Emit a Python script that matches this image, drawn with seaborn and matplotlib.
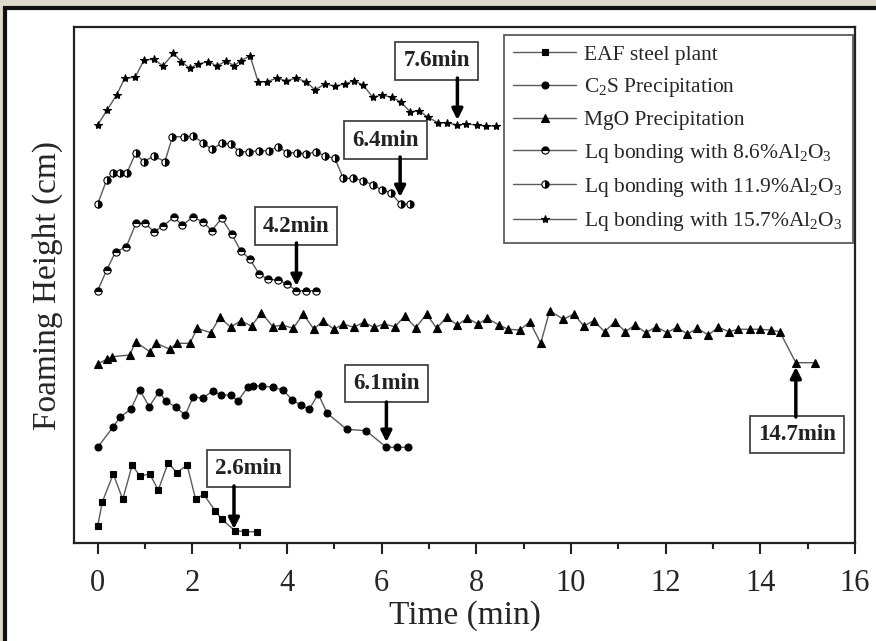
import numpy as np
import pandas as pd
import matplotlib
matplotlib.use('Agg')
import matplotlib.pyplot as plt
from matplotlib.patches import Rectangle
import seaborn as sns

# time (min) and foaming height (arbitrary offset, cm)
eaf_t = [0, 0.10, 0.33, 0.53, 0.73, 0.89, 1.10, 1.28, 1.49, 1.67, 1.89, 2.07, 2.24, 2.48, 2.62, 2.90, 3.11, 3.36]
eaf_h = [1.7, 4.13, 6.9, 4.37, 7.8, 6.7, 6.9, 5.3, 8.03, 7.03, 7.8, 4.37, 4.87, 3.23, 2.37, 1.23, 1.13, 1.13]

c2s_t = [0, 0.33, 0.48, 0.70, 0.89, 1.09, 1.29, 1.44, 1.65, 1.85, 2.02, 2.22, 2.43, 2.60, 2.81, 2.96,
         3.18, 3.29, 3.48, 3.70, 3.92, 4.11, 4.29, 4.47, 4.66, 4.85, 5.26, 5.67, 6.10, 6.33, 6.56]
c2s_h = [9.57, 11.63, 12.63, 13.37, 15.3, 13.63, 15.1, 14.23, 13.57, 12.8, 14.63, 14.47, 15.23, 14.8, 14.8, 14.2,
         15.63, 15.7, 15.7, 15.57, 15.3, 14.3, 13.8, 13.37, 14.9, 12.97, 11.37, 11.23, 9.57, 9.57, 9.57]

mgo_t = [0, 0.19, 0.31, 0.68, 0.80, 1.10, 1.24, 1.53, 1.67, 1.95, 2.10, 2.39, 2.58, 2.81, 3.02, 3.25,
         3.46, 3.70, 3.90, 4.13, 4.34, 4.57, 4.76, 4.99, 5.19, 5.41, 5.62, 5.84, 6.05, 6.28, 6.49, 6.72,
         6.95, 7.16, 7.37, 7.60, 7.81, 8.04, 8.23, 8.48, 8.67, 8.92, 9.13, 9.36, 9.55, 9.84, 10.06, 10.27,
         10.48, 10.71, 10.93, 11.15, 11.35, 11.58, 11.80, 12.03, 12.23, 12.46, 12.67, 12.90, 13.11, 13.34,
         13.53, 13.79, 13.99, 14.22, 14.41, 14.75, 15.15]
mgo_h = [17.9, 18.37, 18.63, 18.8, 20.13, 19.13, 19.97, 19.37, 19.97, 19.97, 21.47, 21.03, 22.57, 21.57,
         22.23, 21.7, 23.03, 21.63, 21.8, 21.47, 22.9, 21.37, 22.23, 21.37, 21.9, 21.57, 22.07, 21.57, 21.9,
         21.63, 22.7, 21.53, 22.9, 21.47, 22.57, 21.8, 22.47, 21.9, 22.47, 21.8, 21.37, 21.3, 22.13, 19.97,
         23.23, 22.37, 22.9, 21.7, 22.23, 21.13, 22.13, 21.13, 21.8, 21.03, 21.63, 21.03, 21.57, 20.9, 21.47,
         20.8, 21.57, 21.13, 21.37, 21.37, 21.37, 21.3, 21.13, 18.03, 18.03]

al86_t = [0, 0.19, 0.38, 0.60, 0.81, 1.00, 1.19, 1.38, 1.61, 1.79, 2.01, 2.22, 2.41, 2.62, 2.83, 3.02,
          3.22, 3.41, 3.60, 3.81, 4.00, 4.20, 4.40, 4.61]
al86_h = [25.23, 27.3, 29.13, 29.57, 31.97, 31.97, 31.13, 31.7, 32.57, 31.8, 32.57, 32.13, 31.23, 32.47,
          30.9, 29.23, 28.37, 26.9, 26.37, 26.3, 25.9, 25.23, 25.23, 25.23]

al119_t = [0, 0.19, 0.33, 0.47, 0.62, 0.80, 0.97, 1.19, 1.42, 1.58, 1.82, 2.02, 2.22, 2.41, 2.62, 2.81,
           2.99, 3.20, 3.41, 3.62, 3.81, 4.00, 4.22, 4.41, 4.61, 4.80, 5.01, 5.19, 5.40, 5.61, 5.82, 6.00,
           6.19, 6.40, 6.60]
al119_h = [33.9, 36.3, 37.03, 37.03, 37.03, 38.97, 38.13, 38.7, 38.13, 40.63, 40.63, 40.7, 40.03, 39.37,
           39.97, 39.9, 39.13, 39.13, 39.23, 39.23, 39.63, 39.03, 39.03, 38.9, 39.13, 38.7, 38.47, 36.47,
           36.47, 36.23, 35.8, 35.3, 35.03, 33.9, 33.9]

al157_t = [0, 0.20, 0.40, 0.57, 0.79, 0.98, 1.19, 1.38, 1.60, 1.77, 1.95, 2.12, 2.34, 2.52, 2.72, 2.88,
           3.02, 3.22, 3.39, 3.57, 3.78, 3.98, 4.19, 4.41, 4.59, 4.80, 5.01, 5.22, 5.41, 5.61, 5.81, 6.00,
           6.21, 6.40, 6.60, 6.79, 6.98, 7.19, 7.38, 7.60, 7.79, 8.01, 8.20, 8.41]
al157_h = [41.8, 43.3, 44.8, 46.47, 46.57, 48.3, 48.37, 47.7, 48.97, 48.13, 47.47, 47.9, 48.13, 47.7,
           48.23, 47.7, 48.23, 48.7, 46.13, 46.13, 46.47, 46.23, 46.47, 46.13, 45.3, 45.9, 45.7, 45.9,
           46.23, 45.8, 44.57, 44.8, 44.57, 44.13, 43.13, 43.23, 42.57, 42.03, 42.03, 41.8, 41.9, 41.8,
           41.7, 41.7]

labels = ['EAF steel plant', 'C$_2$S Precipitation', 'MgO Precipitation',
          'Lq bonding with 8.6%Al$_2$O$_3$', 'Lq bonding with 11.9%Al$_2$O$_3$',
          'Lq bonding with 15.7%Al$_2$O$_3$']

# foaming time annotations: text, box centre (t, h), arrow start, arrow tip
notes = [
    ('7.6min', 7.16, 48.2, (7.60, 46.5), (7.60, 42.3)),
    ('6.4min', 6.08, 40.3, (6.39, 38.6), (6.39, 34.6)),
    ('4.2min', 4.19, 31.7, (4.20, 30.0), (4.20, 25.7)),
    ('6.1min', 6.10, 15.97, (6.10, 14.1), (6.10, 10.1)),
    ('2.6min', 3.19, 7.42, (2.88, 5.7), (2.88, 1.4)),
    ('14.7min', 14.77, 10.85, (14.75, 12.6), (14.75, 17.6)),
]

sns.set_style('ticks')
plt.rcParams['font.family'] = ['Liberation Serif', 'DejaVu Serif']
plt.rcParams['mathtext.fontset'] = 'custom'
plt.rcParams['mathtext.rm'] = 'Liberation Serif'
plt.rcParams['mathtext.it'] = 'Liberation Serif:italic'

fig = plt.figure(figsize=(8.76, 6.41), dpi=100)
fig.patch.set_facecolor('#dedacb')
# white panel with dark frame, like the screenshot border
frame = Rectangle((5 / 876, -0.1), 1.1, 1.1 - 8.5 / 641,
                  transform=fig.transFigure, facecolor='white',
                  edgecolor='#111111', linewidth=3, zorder=-10)
fig.patches.append(frame)

ax = fig.add_axes([74 / 876, 1 - 543 / 641, 781 / 876, 516 / 641])
ax.set_facecolor('white')
ax.set_zorder(2)

line_c = '#5a5a5a'
series = [
    (eaf_t, eaf_h, dict(marker='s', markersize=4.2, fillstyle='full')),
    (c2s_t, c2s_h, dict(marker='o', markersize=5, fillstyle='full')),
    (mgo_t, mgo_h, dict(marker='^', markersize=6, fillstyle='full')),
    (al86_t, al86_h, dict(marker='o', markersize=5.2, fillstyle='top', markerfacecoloralt='white')),
    (al119_t, al119_h, dict(marker='o', markersize=5.2, fillstyle='right', markerfacecoloralt='white')),
    (al157_t, al157_h, dict(marker='*', markersize=6, fillstyle='full')),
]
for (t, h, mk), lab in zip(series, labels):
    df = pd.DataFrame({'Time': t, 'Height': h})
    sns.lineplot(data=df, x='Time', y='Height', ax=ax, sort=False, estimator=None,
                 color=line_c, linewidth=1.0, markerfacecolor='black',
                 markeredgecolor='black', markeredgewidth=0.8, label=lab, **mk)

for txt, bx, by, start, tip in notes:
    ax.text(bx, by, txt, ha='center', va='center', fontsize=16.5, fontweight='bold',
            color='#222222', zorder=5,
            bbox=dict(boxstyle='square,pad=0.35', facecolor='white',
                      edgecolor='#444444', linewidth=1.3))
    ax.annotate('', xy=tip, xytext=start, zorder=6,
                arrowprops=dict(arrowstyle='-|>', color='black', lw=2.5,
                                mutation_scale=16, shrinkA=0, shrinkB=0))

ax.set_xlim(-0.5, 16)
ax.set_ylim(0, 51.6)
ax.set_xticks(np.arange(0, 17, 2))
ax.set_xticks(np.arange(1, 16, 2), minor=True)
ax.set_yticks([])
ax.tick_params(axis='x', which='major', direction='out', length=8, width=1.5,
               labelsize=22, pad=11, color='#222222')
ax.tick_params(axis='x', which='minor', direction='out', length=4, width=1.5, color='#222222')
for side in ['left', 'right', 'top', 'bottom']:
    ax.spines[side].set_visible(True)
    ax.spines[side].set_linewidth(1.6)
    ax.spines[side].set_color('#222222')

ax.set_xlabel('Time (min)', fontsize=24, labelpad=1)
ax.set_ylabel('Foaming Height (cm)', fontsize=24, labelpad=8)

leg = ax.legend(loc='upper right', bbox_to_anchor=(0.997, 0.984), borderaxespad=0,
                fontsize=15.5, frameon=True, fancybox=False, edgecolor='#333333',
                handlelength=2.9, handletextpad=0.4, labelspacing=0.52, borderpad=0.45)
leg.get_frame().set_linewidth(1.3)
leg.set_zorder(7)

fig.savefig('out.png', dpi=100, facecolor=fig.get_facecolor())
